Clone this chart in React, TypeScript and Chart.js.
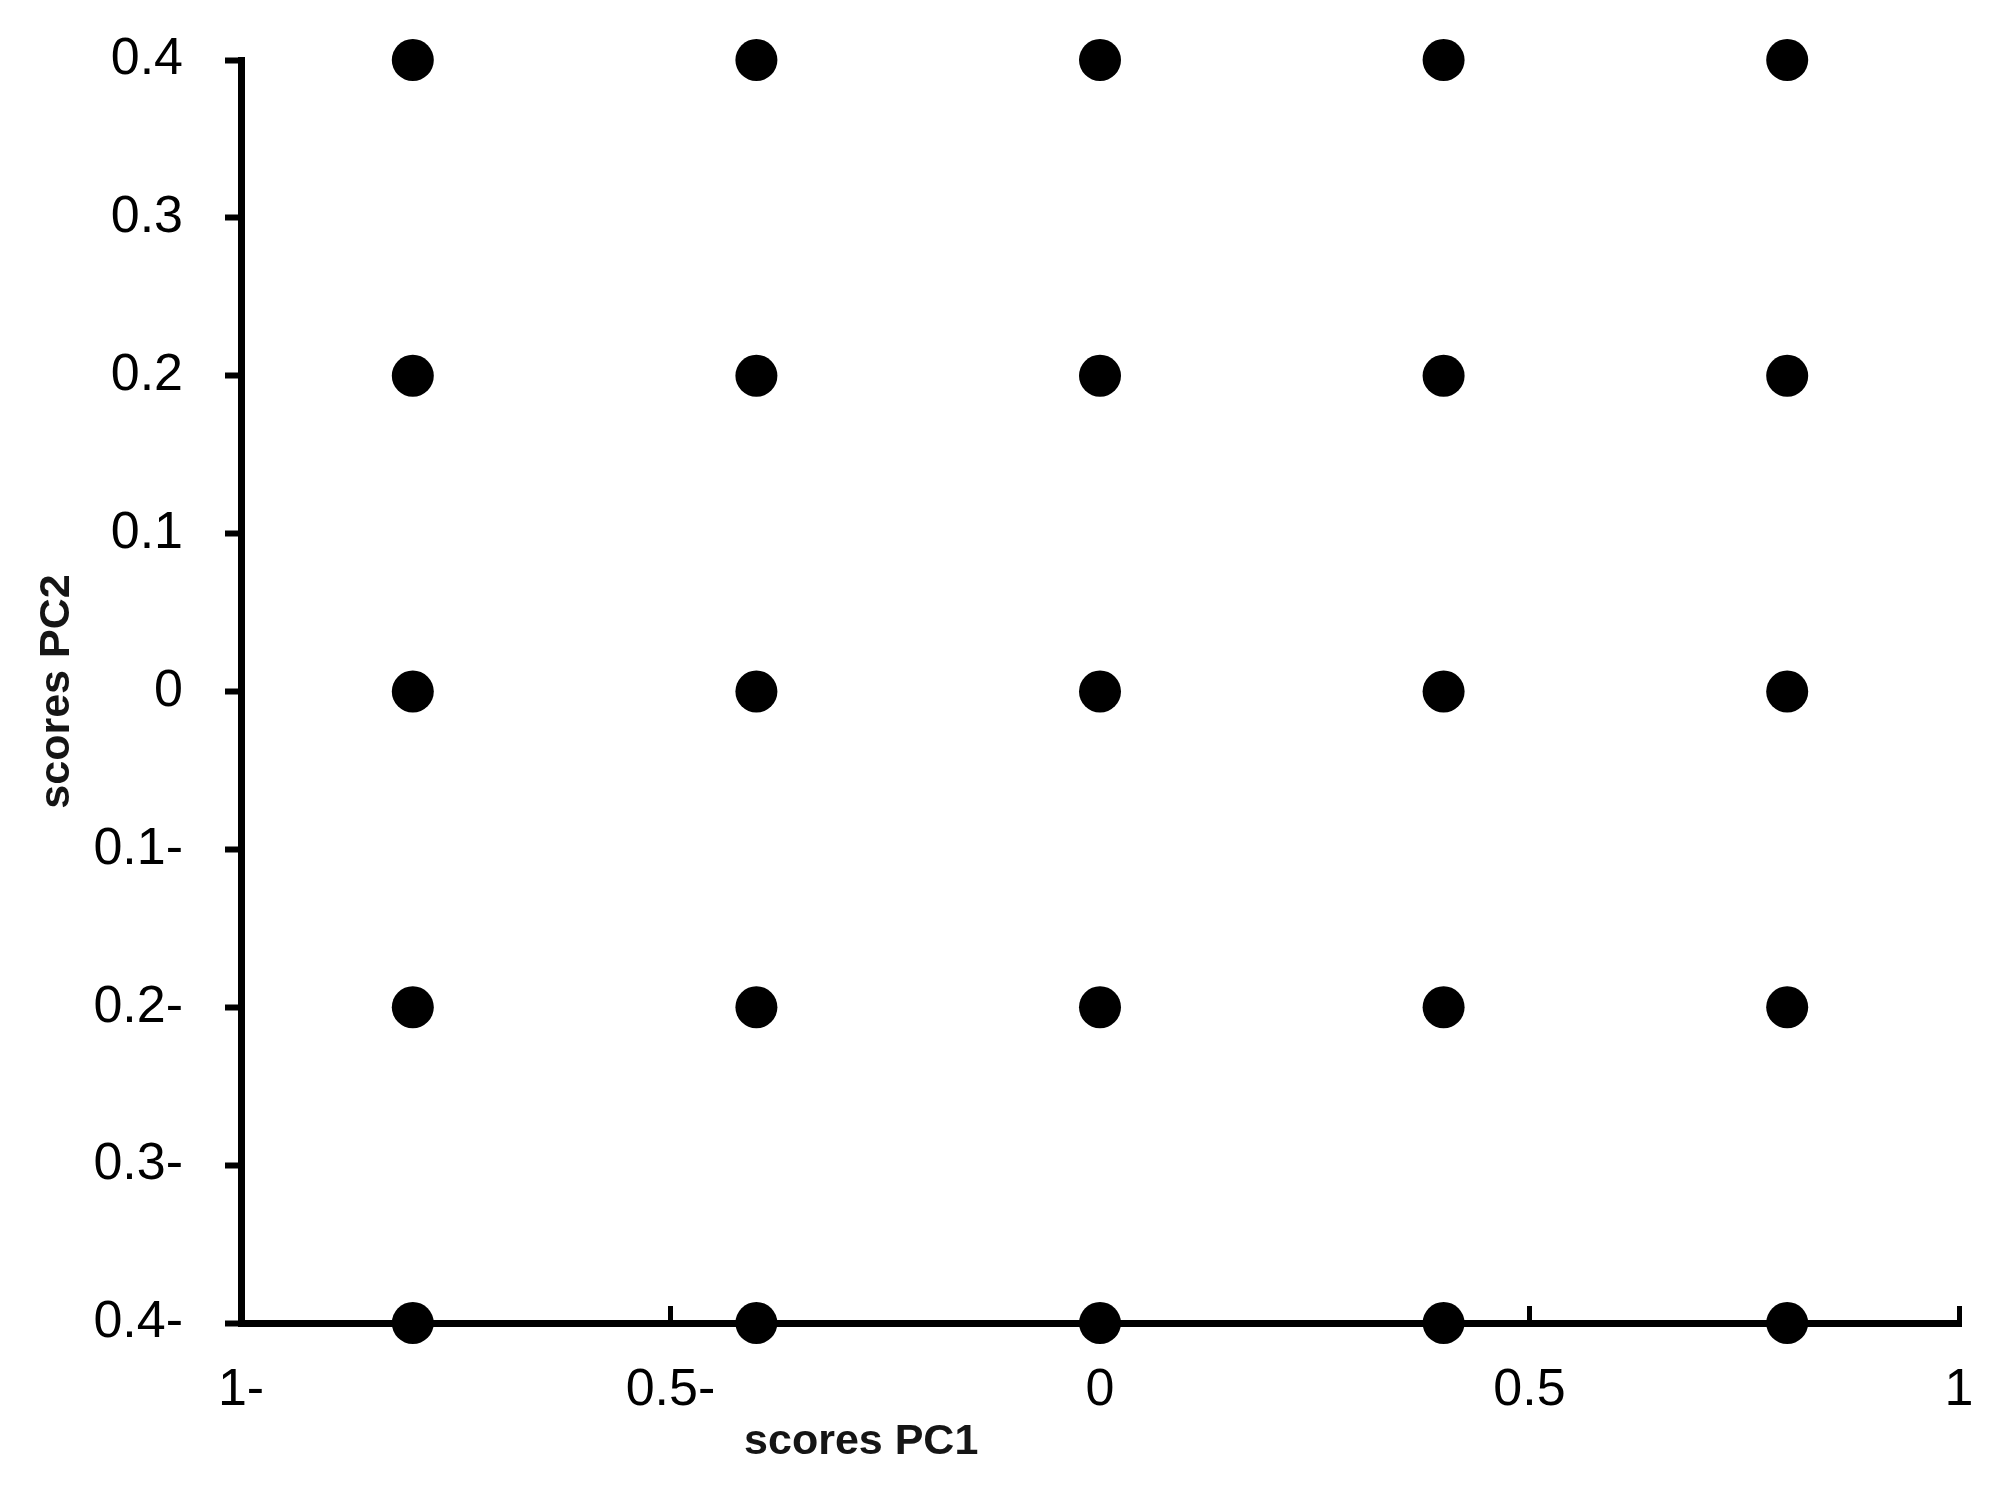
import React, { useEffect, useRef } from 'react';
import { Chart, registerables } from 'chart.js';

Chart.register(...registerables);

// PC scores (5 x 5 grid of points)
const pc1Scores = [
  -0.8, -0.4, 0, 0.4, 0.8,
  -0.8, -0.4, 0, 0.4, 0.8,
  -0.8, -0.4, 0, 0.4, 0.8,
  -0.8, -0.4, 0, 0.4, 0.8,
  -0.8, -0.4, 0, 0.4, 0.8,
];
const pc2Scores = [
  0.4, 0.4, 0.4, 0.4, 0.4,
  0.2, 0.2, 0.2, 0.2, 0.2,
  0, 0, 0, 0, 0,
  -0.2, -0.2, -0.2, -0.2, -0.2,
  -0.4, -0.4, -0.4, -0.4, -0.4,
];

// Tick values and labels as printed (minus sign written after the number)
const xTickValues = [-1, -0.5, 0, 0.5, 1];
const xTickLabels = ['1-', '0.5-', '0', '0.5', '1'];
const yTickValues = [-0.4, -0.3, -0.2, -0.1, 0, 0.1, 0.2, 0.3, 0.4];
const yTickLabels = ['0.4-', '0.3-', '0.2-', '0.1-', '0', '0.1', '0.2', '0.3', '0.4'];

const xTitle = 'scores PC1';
const yTitle = 'scores PC2';

const TICK_FONT = '"Liberation Sans", Arial, sans-serif';

const titlePlugin = {
  id: 'axisTitlesCustom',
  afterDraw(chart: any) {
    const ctx = chart.ctx as CanvasRenderingContext2D;
    const ca = chart.chartArea;
    ctx.save();
    ctx.font = 'bold 43px "Liberation Sans", Arial, sans-serif';
    ctx.fillStyle = '#151515';
    ctx.textAlign = 'center';
    ctx.textBaseline = 'alphabetic';
    // x title
    ctx.fillText(xTitle, ca.left + (ca.right - ca.left) * 0.361, ca.bottom + 131);
    // y title
    ctx.translate(69, (ca.top + ca.bottom) / 2);
    ctx.rotate(-Math.PI / 2);
    ctx.fillText(yTitle, 0, 0);
    ctx.restore();
  },
};

export default function App() {
  const canvasRef = useRef<HTMLCanvasElement | null>(null);

  useEffect(() => {
    document.body.style.margin = '0';
    document.body.style.overflow = 'hidden';
    const canvas = canvasRef.current;
    if (!canvas) return;
    const data = pc1Scores.map((x, i) => ({ x, y: pc2Scores[i] }));
    const chart = new Chart(canvas, {
      type: 'scatter',
      data: {
        datasets: [
          {
            data,
            pointRadius: 21,
            pointHoverRadius: 21,
            backgroundColor: '#000',
            borderColor: '#000',
            borderWidth: 0,
            clip: false as any,
          },
        ],
      },
      options: {
        responsive: false,
        animation: false,
        devicePixelRatio: 1,
        events: [],
        layout: { autoPadding: false, padding: { top: 60, right: 49, left: 0, bottom: 0 } },
        plugins: {
          legend: { display: false },
          tooltip: { enabled: false },
        },
        scales: {
          x: {
            type: 'linear',
            position: 'bottom',
            min: -1,
            max: 1,
            afterFit: (s: any) => {
              s.height = 170;
              s.paddingLeft = 0;
              s.paddingRight = 0;
            },
            afterBuildTicks: (s: any) => {
              s.ticks = xTickValues.map((v) => ({ value: v }));
            },
            border: { display: true, width: 7, color: '#000' },
            grid: {
              drawOnChartArea: false,
              drawTicks: true,
              tickLength: -17,
              tickWidth: 5,
              tickColor: '#000',
            },
            ticks: {
              padding: 53,
              color: '#000',
              font: { family: TICK_FONT, size: 52 },
              maxRotation: 0,
              autoSkip: false,
              callback: (_v: any, i: number) => xTickLabels[i],
            },
          },
          y: {
            type: 'linear',
            min: -0.4,
            max: 0.4,
            afterFit: (s: any) => {
              s.width = 241;
              s.paddingTop = 0;
              s.paddingBottom = 0;
            },
            afterBuildTicks: (s: any) => {
              s.ticks = yTickValues.map((v) => ({ value: v }));
            },
            border: { display: true, width: 7, color: '#000' },
            grid: {
              drawOnChartArea: false,
              drawTicks: true,
              tickLength: 16,
              tickWidth: 6,
              tickColor: '#000',
            },
            ticks: {
              padding: 42,
              color: '#000',
              font: { family: TICK_FONT, size: 52 },
              autoSkip: false,
              callback: (_v: any, i: number) => yTickLabels[i],
            },
          },
        },
      },
      plugins: [titlePlugin],
    });
    return () => chart.destroy();
  }, []);

  return (
    <div style={{ width: 2008, height: 1493, background: '#fff' }}>
      <canvas ref={canvasRef} width={2008} height={1493} style={{ display: 'block' }} />
    </div>
  );
}
